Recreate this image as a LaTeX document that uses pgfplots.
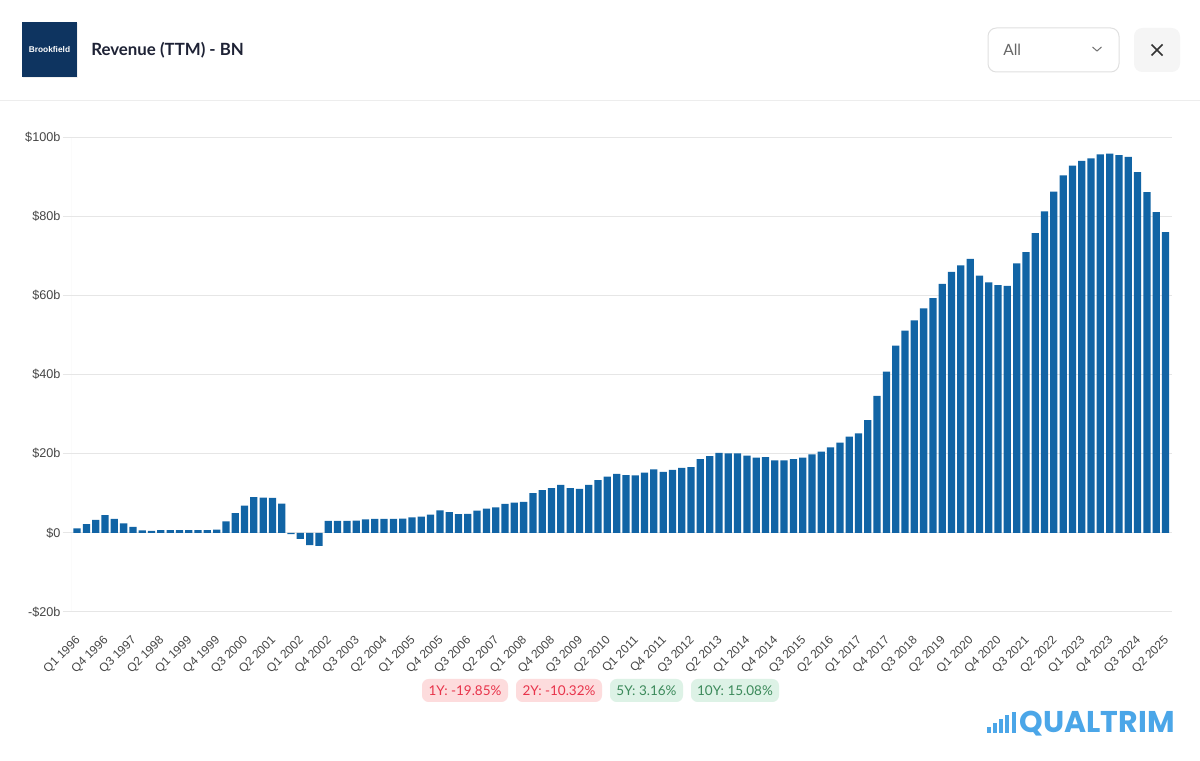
\documentclass[border=0pt]{standalone}
\usepackage{pgfplots}
\pgfplotsset{compat=1.18}
\usepackage{fontspec}
\setmainfont{Lato}
\newfontfamily\axisfont{Liberation Sans}
\newfontfamily\qfont{Poppins}

\definecolor{barblue}{RGB}{17,100,165}
\definecolor{gridc}{RGB}{230,230,230}
\definecolor{labc}{RGB}{70,70,70}
\definecolor{titlec}{RGB}{30,34,53}
\definecolor{logoc}{RGB}{14,52,96}
\definecolor{pinkbg}{RGB}{253,220,221}
\definecolor{redtx}{RGB}{232,51,74}
\definecolor{greenbg}{RGB}{221,242,230}
\definecolor{greentx}{RGB}{60,138,91}
\definecolor{qblue}{RGB}{75,166,232}

\begin{document}
\begin{tikzpicture}
% page in pixels of the reference (1px = 0.6pt), y measured from the bottom
\begin{scope}[x=0.6pt,y=0.6pt]
  \useasboundingbox (0,0) rectangle (1200,761);
  \fill[white] (0,0) rectangle (1200,761);
  % header
  \fill[black!6] (23,682.5) rectangle (78,738);
  \fill[logoc] (22,684) rectangle (77,739);
  \node[text=white, font=\axisfont\bfseries\fontsize{5pt}{6pt}\selectfont] at (49.5,711) {Brookfield};
  \node[anchor=base west, inner sep=0, text=titlec, font=\bfseries\fontsize{10.1pt}{12pt}\selectfont] at (91,705) {Revenue (TTM) - BN};
  \draw[black!12, line width=0.6pt, rounded corners=5] (988,689) rectangle (1119,733);
  \node[anchor=base west, inner sep=0, text=black!60, font=\fontsize{9.3pt}{10pt}\selectfont] at (1003,705) {All};
  \draw[black!55, line width=0.6pt] (1092.5,714) -- (1097,710) -- (1101.5,714);
  \fill[black!4, rounded corners=5] (1134,689) rectangle (1180,733);
  \draw[black!80, line width=1pt] (1151.5,705.5) -- (1162.5,716.5) (1151.5,716.5) -- (1162.5,705.5);
  \draw[black!7, line width=0.6pt] (0,660) -- (1200,660);
  % change badges
  \fill[pinkbg, rounded corners=4] (422,59) rectangle (508,82);
  \fill[pinkbg, rounded corners=4] (516,59) rectangle (602,82);
  \fill[greenbg, rounded corners=4] (610,59) rectangle (683,82);
  \fill[greenbg, rounded corners=4] (691,59) rectangle (779,82);
  \begin{scope}[every node/.style={font=\fontsize{8.1pt}{9pt}\selectfont, inner sep=0}]
    \node[text=redtx] at (465,70.5) {1Y: -19.85\%};
    \node[text=redtx] at (559,70.5) {2Y: -10.32\%};
    \node[text=greentx] at (646.5,70.5) {5Y: 3.16\%};
    \node[text=greentx] at (735,70.5) {10Y: 15.08\%};
  \end{scope}
  % brand
  \fill[qblue] (987,28) rectangle (990.5,34);
  \fill[qblue] (993,28) rectangle (996.5,38);
  \fill[qblue] (999,28) rectangle (1002.5,42);
  \fill[qblue] (1005,28) rectangle (1008.5,46);
  \fill[qblue] (1012,28) rectangle (1016,49);
  \node[anchor=base east, inner sep=0, text=qblue, font=\qfont\bfseries\fontsize{18pt}{20pt}\selectfont] at (1175,28) {QUALTRIM};
\end{scope}

\begin{axis}[
  at={(43.2pt,89.4pt)}, anchor=south west,
  scale only axis, width=660pt, height=285pt,
  xmin=-0.55, xmax=117.7,
  ymin=-20, ymax=100,
  ytick={-20,0,20,40,60,80,100},
  yticklabels={-\$20b,\$0,\$20b,\$40b,\$60b,\$80b,\$100b},
  ymajorgrids, grid style={gridc, line width=0.6pt},
  axis line style={draw=none},
  ytick pos=left, tick align=outside, major tick length=5.4pt,
  ytick style={gridc, line width=0.6pt},
  yticklabel style={font=\axisfont\fontsize{7.6pt}{9pt}\selectfont, text=labc, xshift=2pt},
  xtick={0,3,...,117},
  xticklabels={Q1 1996,Q4 1996,Q3 1997,Q2 1998,Q1 1999,Q4 1999,Q3 2000,Q2 2001,
    Q1 2002,Q4 2002,Q3 2003,Q2 2004,Q1 2005,Q4 2005,Q3 2006,Q2 2007,Q1 2008,
    Q4 2008,Q3 2009,Q2 2010,Q1 2011,Q4 2011,Q3 2012,Q2 2013,Q1 2014,Q4 2014,
    Q3 2015,Q2 2016,Q1 2017,Q4 2017,Q3 2018,Q2 2019,Q1 2020,Q4 2020,Q3 2021,
    Q2 2022,Q1 2023,Q4 2023,Q3 2024,Q2 2025},
  xtick style={draw=none},
  xticklabel style={font=\axisfont\fontsize{7.2pt}{8pt}\selectfont, text=labc,
    xshift=1pt, yshift=-10.5pt, rotate=45, anchor=east, inner sep=0pt},
  ybar, bar width=0.78,
]
\draw[gridc, line width=0.6pt] (rel axis cs:0,0) -- (rel axis cs:0,1);
\addplot[fill=barblue, draw=none] coordinates {
  (0,1.1) (1,2.2) (2,3.3) (3,4.5) (4,3.5) (5,2.4) (6,1.5) (7,0.6)
  (8,0.5) (9,0.7) (10,0.7) (11,0.7) (12,0.7) (13,0.7) (14,0.7) (15,0.8)
  (16,2.9) (17,5.0) (18,6.9) (19,9.0) (20,8.9) (21,8.8) (22,7.4) (23,-0.3)
  (24,-1.5) (25,-3.1) (26,-3.3) (27,3.0) (28,3.0) (29,3.0) (30,3.1) (31,3.4)
  (32,3.5) (33,3.5) (34,3.5) (35,3.6) (36,3.9) (37,4.1) (38,4.6) (39,5.7)
  (40,5.2) (41,4.7) (42,4.8) (43,5.6) (44,6.1) (45,6.4) (46,7.3) (47,7.6)
  (48,7.8) (49,10.0) (50,10.8) (51,11.3) (52,12.1) (53,11.3) (54,11.1) (55,12.1)
  (56,13.3) (57,14.2) (58,14.9) (59,14.6) (60,14.5) (61,15.2) (62,16.0) (63,15.4)
  (64,15.9) (65,16.4) (66,16.6) (67,18.6) (68,19.4) (69,20.2) (70,20.1) (71,20.1)
  (72,19.5) (73,19.0) (74,19.1) (75,18.3) (76,18.3) (77,18.6) (78,19.0) (79,19.8)
  (80,20.5) (81,21.6) (82,22.8) (83,24.3) (84,25.1) (85,28.5) (86,34.6) (87,40.7)
  (88,47.3) (89,51.1) (90,53.7) (91,56.7) (92,59.3) (93,62.9) (94,65.9) (95,67.6)
  (96,69.2) (97,65.0) (98,63.3) (99,62.6) (100,62.4) (101,68.1) (102,70.9) (103,75.7)
  (104,81.2) (105,86.2) (106,90.3) (107,92.8) (108,94.0) (109,94.6) (110,95.6) (111,95.8)
  (112,95.4) (113,95.0) (114,91.1) (115,86.1) (116,81.0) (117,76.0)
};
\end{axis}
\end{tikzpicture}
\end{document}
